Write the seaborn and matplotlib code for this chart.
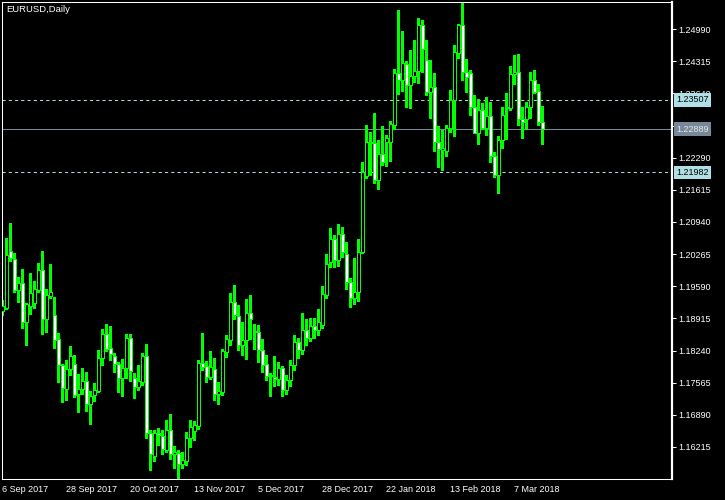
import pandas as pd
import seaborn as sns
import matplotlib.pyplot as plt

# EURUSD daily bars, 6 Sep 2017 .. mid Mar 2018
opens = [1.1907, 1.1913, 1.2033, 1.2016, 1.1952, 1.1965, 1.1885, 1.1918, 1.1923, 1.1952,
         1.1993, 1.1891, 1.1939, 1.1899, 1.1848, 1.1794, 1.1744, 1.1785, 1.1795, 1.1732,
         1.1743, 1.1760, 1.1711, 1.1730, 1.1740, 1.1808, 1.1859, 1.1829, 1.1812, 1.1796,
         1.1766, 1.1787, 1.1850, 1.1766, 1.1748, 1.1759, 1.1813, 1.1650, 1.1603, 1.1650,
         1.1645, 1.1615, 1.1657, 1.1607, 1.1609, 1.1585, 1.1593, 1.1640, 1.1656, 1.1666,
         1.1797, 1.1791, 1.1769, 1.1785, 1.1732, 1.1738, 1.1822, 1.1847, 1.1926, 1.1896,
         1.1836, 1.1846, 1.1902, 1.1862, 1.1864, 1.1825, 1.1795, 1.1773, 1.1768, 1.1764,
         1.1787, 1.1741, 1.1762, 1.1794, 1.1842, 1.1825, 1.1867, 1.1850, 1.1876, 1.1867,
         1.1878, 1.1941, 1.2009, 1.2058, 1.2014, 1.2068, 1.2026, 1.1967, 1.1935, 1.1946,
         1.2030, 1.2191, 1.2263, 1.2259, 1.2183, 1.2236, 1.2261, 1.2261, 1.2297, 1.2406,
         1.2392, 1.2425, 1.2381, 1.2401, 1.2412, 1.2507, 1.2434, 1.2366, 1.2377, 1.2261,
         1.2246, 1.2244, 1.2291, 1.2350, 1.2448, 1.2507, 1.2410, 1.2406, 1.2336, 1.2281,
         1.2329, 1.2291, 1.2316, 1.2232, 1.2192, 1.2266, 1.2333, 1.2333, 1.2404, 1.2410,
         1.2310, 1.2310, 1.2335, 1.2392, 1.2369, 1.2305]
highs = [1.1930, 1.2060, 1.2092, 1.2028, 1.1979, 1.1995, 1.1923, 1.1986, 1.1970, 1.2008,
         1.2033, 1.1953, 1.2006, 1.1937, 1.1861, 1.1796, 1.1804, 1.1834, 1.1815, 1.1775,
         1.1787, 1.1779, 1.1739, 1.1756, 1.1825, 1.1869, 1.1880, 1.1876, 1.1819, 1.1800,
         1.1806, 1.1859, 1.1859, 1.1777, 1.1794, 1.1818, 1.1838, 1.1657, 1.1657, 1.1661,
         1.1657, 1.1678, 1.1691, 1.1624, 1.1615, 1.1611, 1.1654, 1.1678, 1.1676, 1.1804,
         1.1861, 1.1802, 1.1823, 1.1808, 1.1758, 1.1827, 1.1857, 1.1945, 1.1962, 1.1919,
         1.1884, 1.1932, 1.1941, 1.1880, 1.1878, 1.1848, 1.1815, 1.1776, 1.1813, 1.1800,
         1.1792, 1.1773, 1.1804, 1.1857, 1.1850, 1.1903, 1.1890, 1.1892, 1.1892, 1.1911,
         1.1960, 1.2027, 1.2081, 1.2066, 1.2090, 1.2084, 1.2052, 1.1976, 1.2019, 1.2058,
         1.2220, 1.2298, 1.2283, 1.2323, 1.2266, 1.2296, 1.2277, 1.2306, 1.2415, 1.2539,
         1.2495, 1.2432, 1.2455, 1.2476, 1.2522, 1.2518, 1.2476, 1.2434, 1.2406, 1.2296,
         1.2287, 1.2298, 1.2371, 1.2465, 1.2510, 1.2554, 1.2436, 1.2413, 1.2360, 1.2352,
         1.2343, 1.2356, 1.2346, 1.2242, 1.2274, 1.2335, 1.2364, 1.2422, 1.2445, 1.2447,
         1.2336, 1.2346, 1.2409, 1.2413, 1.2384, 1.2338]
lows = [1.1899, 1.1911, 1.2012, 1.1948, 1.1925, 1.1872, 1.1836, 1.1900, 1.1914, 1.1948,
        1.1859, 1.1864, 1.1935, 1.1830, 1.1757, 1.1717, 1.1720, 1.1773, 1.1727, 1.1696,
        1.1733, 1.1697, 1.1669, 1.1719, 1.1738, 1.1794, 1.1824, 1.1805, 1.1780, 1.1736,
        1.1729, 1.1767, 1.1761, 1.1724, 1.1741, 1.1752, 1.1640, 1.1573, 1.1593, 1.1625,
        1.1606, 1.1610, 1.1597, 1.1578, 1.1554, 1.1578, 1.1584, 1.1622, 1.1636, 1.1659,
        1.1783, 1.1757, 1.1764, 1.1720, 1.1712, 1.1731, 1.1811, 1.1836, 1.1890, 1.1825,
        1.1815, 1.1806, 1.1848, 1.1827, 1.1801, 1.1780, 1.1762, 1.1729, 1.1750, 1.1752,
        1.1729, 1.1733, 1.1750, 1.1783, 1.1808, 1.1817, 1.1836, 1.1844, 1.1850, 1.1857,
        1.1871, 1.1935, 1.2000, 1.2000, 1.2002, 1.2020, 1.1954, 1.1915, 1.1922, 1.1929,
        1.2028, 1.2187, 1.2193, 1.2176, 1.2164, 1.2214, 1.2212, 1.2223, 1.2290, 1.2363,
        1.2370, 1.2336, 1.2334, 1.2387, 1.2385, 1.2408, 1.2361, 1.2313, 1.2244, 1.2210,
        1.2204, 1.2233, 1.2284, 1.2275, 1.2438, 1.2392, 1.2367, 1.2319, 1.2280, 1.2258,
        1.2289, 1.2277, 1.2221, 1.2188, 1.2154, 1.2250, 1.2268, 1.2329, 1.2384, 1.2297,
        1.2271, 1.2289, 1.2313, 1.2365, 1.2298, 1.2258]
closes = [1.1918, 1.2024, 1.2019, 1.1952, 1.1965, 1.1885, 1.1921, 1.1945, 1.1953, 1.1993,
          1.1891, 1.1941, 1.1946, 1.1847, 1.1793, 1.1745, 1.1785, 1.1813, 1.1731, 1.1743,
          1.1760, 1.1711, 1.1729, 1.1741, 1.1808, 1.1859, 1.1827, 1.1817, 1.1795, 1.1766,
          1.1787, 1.1850, 1.1781, 1.1748, 1.1760, 1.1813, 1.1650, 1.1606, 1.1650, 1.1646,
          1.1618, 1.1657, 1.1606, 1.1612, 1.1585, 1.1594, 1.1640, 1.1663, 1.1668, 1.1797,
          1.1790, 1.1769, 1.1789, 1.1732, 1.1739, 1.1823, 1.1848, 1.1927, 1.1898, 1.1836,
          1.1846, 1.1902, 1.1891, 1.1865, 1.1825, 1.1794, 1.1771, 1.1770, 1.1764, 1.1787,
          1.1741, 1.1762, 1.1794, 1.1842, 1.1825, 1.1867, 1.1850, 1.1876, 1.1867, 1.1884,
          1.1942, 1.2005, 1.2058, 1.2014, 1.2068, 1.2030, 1.1967, 1.1935, 1.1946, 1.2030,
          1.2200, 1.2263, 1.2259, 1.2183, 1.2236, 1.2221, 1.2270, 1.2299, 1.2406, 1.2392,
          1.2427, 1.2381, 1.2401, 1.2412, 1.2507, 1.2457, 1.2366, 1.2377, 1.2263, 1.2247,
          1.2249, 1.2291, 1.2350, 1.2450, 1.2507, 1.2410, 1.2399, 1.2336, 1.2281, 1.2329,
          1.2291, 1.2316, 1.2232, 1.2192, 1.2266, 1.2318, 1.2336, 1.2404, 1.2410, 1.2310,
          1.2305, 1.2335, 1.2392, 1.2368, 1.2303, 1.2289]

date_ticks = [0, 16, 32, 48, 64, 80, 96, 112, 128]
date_labels = ['6 Sep 2017', '28 Sep 2017', '20 Oct 2017', '13 Nov 2017', '5 Dec 2017',
               '28 Dec 2017', '22 Jan 2018', '13 Feb 2018', '7 Mar 2018']
price_ticks = [1.16215, 1.16890, 1.17565, 1.18240, 1.18915, 1.19590, 1.20265,
               1.20940, 1.21615, 1.22290, 1.22965, 1.23640, 1.24315, 1.24990]
upper_level = 1.23507
lower_level = 1.21982
bid_price = 1.22889

df = pd.DataFrame({'open': opens, 'high': highs, 'low': lows, 'close': closes})
df['bar'] = range(len(df))
df['bottom'] = df[['open', 'close']].min(axis=1)
df['body'] = (df.close - df.open).abs().clip(lower=0.00004)
df['fill'] = ['white' if c < o else 'black' for o, c in zip(df.open, df.close)]

sns.set_theme(style='dark', rc={'axes.facecolor': 'black', 'figure.facecolor': 'black'})
plt.rcParams['font.family'] = ['Liberation Sans', 'DejaVu Sans']

GREEN = '#00ff00'
fig = plt.figure(figsize=(7.25, 5), dpi=100)
ax = fig.add_axes([2 / 725, 21 / 500, 670 / 725, 477 / 500])

# candles: green wick + outlined body (white = bearish, black = bullish)
ax.vlines(df.bar, df.low, df.high, color=GREEN, lw=0.75, antialiased=False, zorder=2)
ax.bar(df.bar, df.body, bottom=df.bottom, width=0.7, color=df.fill,
       edgecolor=GREEN, linewidth=0.6, antialiased=False, zorder=3)

# levels
ax.axhline(upper_level, color='#add8e6', lw=0.75, ls=(0, (3, 3)), zorder=1)
ax.axhline(lower_level, color='#add8e6', lw=0.75, ls=(0, (3, 3)), zorder=1)
ax.axhline(bid_price, color='#778899', lw=0.75, zorder=1)

ax.set_xlim(-0.1, 167.4)
ax.set_ylim(1.15543, 1.25560)

ax.yaxis.tick_right()
ax.set_yticks(price_ticks)
ax.set_yticklabels([f'{p:.5f}' for p in price_ticks])
ax.set_xticks(date_ticks)
ax.set_xticklabels(date_labels, ha='left')
ax.tick_params(axis='both', colors='white', labelcolor='white', labelsize=6.5,
               length=3, width=0.75, direction='out')
ax.tick_params(axis='y', pad=1.5)
ax.tick_params(axis='x', pad=1.5)
ax.grid(False)

for side in ['left', 'top', 'bottom', 'right']:
    ax.spines[side].set_visible(True)
    ax.spines[side].set_color('white')
    ax.spines[side].set_linewidth(0.75)
ax.spines['right'].set_linewidth(1.6)

# price labels at the right edge, drawn over the tick labels as in the terminal
tr = ax.get_yaxis_transform()
for val, bg, fg in [(upper_level, '#b0e0e6', 'black'),
                    (bid_price, '#778899', '#e8e8e8'),
                    (lower_level, '#b0e0e6', 'black')]:
    ax.text(1.006, val, f'{val:.5f}', transform=tr, ha='left', va='center',
            fontsize=6.5, color=fg, clip_on=False, zorder=10,
            bbox=dict(boxstyle='square,pad=0.25', fc=bg, ec='none'))

fig.text(6.5 / 725, 1 - 5 / 500, 'EURUSD,Daily', color='white', fontsize=6.8,
         ha='left', va='top')

fig.savefig('out.png', dpi=100, facecolor='black')
